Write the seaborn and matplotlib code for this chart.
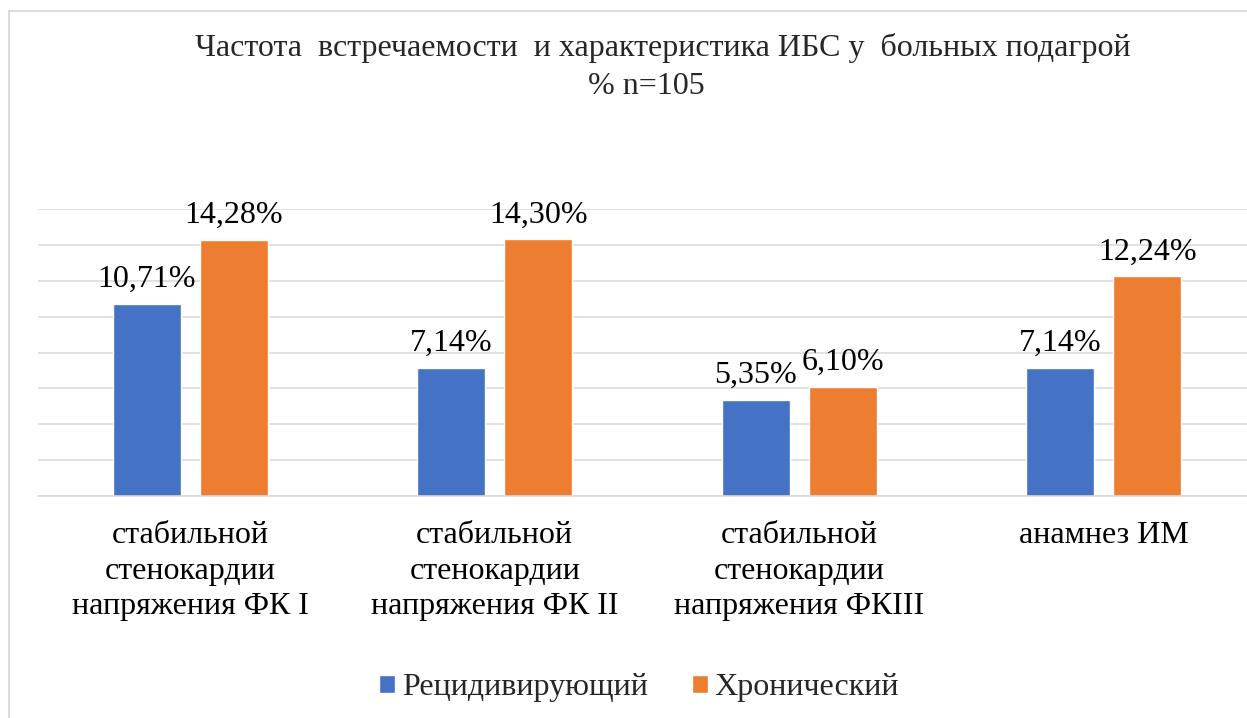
import matplotlib
matplotlib.use("Agg")
import matplotlib.pyplot as plt
from matplotlib.lines import Line2D
import seaborn as sns
import pandas as pd

categories = [
    "стабильной\nстенокардии\nнапряжения ФК I",
    "стабильной\nстенокардии\nнапряжения ФК II",
    "стабильной\nстенокардии\nнапряжения ФКIII",
    "анамнез ИМ",
]
series_names = ["Рецидивирующий", "Хронический"]
recurrent = [10.71, 7.14, 5.35, 7.14]
chronic = [14.28, 14.30, 6.10, 12.24]
colors = ["#4472C4", "#ED7D31"]
title_line1 = "Частота  встречаемости  и характеристика ИБС у  больных подагрой"
title_line2 = "% n=105"

sns.set_theme(style="white")
plt.rcParams["font.family"] = ["Liberation Serif", "DejaVu Serif"]

FS = 23
W, H = 1247, 718
fig = plt.figure(figsize=(W / 100, H / 100), dpi=100)

def fx(px):
    return px / W

def fy(py):
    return 1 - py / H

ax = fig.add_axes([fx(38), fy(496), fx(1256 - 38), (496 - 209) / H])

df = pd.DataFrame({
    "cat": categories * 2,
    "series": [series_names[0]] * 4 + [series_names[1]] * 4,
    "val": recurrent + chronic,
})

sns.barplot(data=df, x="cat", y="val", hue="series", order=categories,
            hue_order=series_names, palette=colors, width=0.572, gap=0.219,
            saturation=1, ax=ax, errorbar=None)

ax.set_ylim(0, 16)
ax.set_yticks(range(0, 17, 2))
ax.yaxis.grid(True, color="#d9d9d9", linewidth=1.1)
ax.set_axisbelow(True)
ax.tick_params(axis="y", left=False, labelleft=False)
ax.tick_params(axis="x", bottom=False, labelsize=FS, pad=12, colors="black")
for lbl in ax.get_xticklabels():
    lbl.set_linespacing(1.3)
ax.set_xlabel("")
ax.set_ylabel("")
for s in ["top", "right", "left"]:
    ax.spines[s].set_visible(False)
ax.spines["bottom"].set_color("#d9d9d9")
ax.spines["bottom"].set_linewidth(1.1)

for cont in ax.containers:
    labels = [f"{v:.2f}".replace(".", ",") + "%" for v in cont.datavalues]
    ax.bar_label(cont, labels=labels, padding=7, fontsize=FS, color="black")

sns.move_legend(ax, loc="center", bbox_to_anchor=(fx(639), fy(688)),
                bbox_transform=fig.transFigure, ncol=2, frameon=False,
                title=None, fontsize=FS, handlelength=0.5,
                handleheight=0.5, handletextpad=0.22, columnspacing=1.38)

fig.text(fx(663), fy(48), title_line1, ha="center", va="center", fontsize=FS)
fig.text(fx(646), fy(86), title_line2, ha="center", va="center", fontsize=FS)

# frame of the embedded chart
fig.add_artist(Line2D([fx(9), fx(9)], [0, fy(11)], transform=fig.transFigure,
                      color="#d9d9d9", linewidth=1.3))
fig.add_artist(Line2D([fx(9), 1], [fy(11), fy(11)], transform=fig.transFigure,
                      color="#d9d9d9", linewidth=1.3))

fig.savefig("out.png", dpi=100)
